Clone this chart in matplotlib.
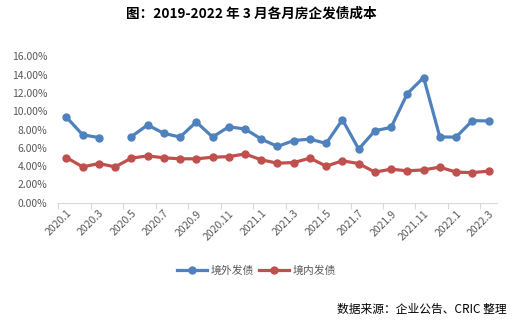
import numpy as np
import matplotlib.pyplot as plt
from matplotlib.ticker import PercentFormatter

plt.rcParams['font.family'] = ['Noto Sans CJK SC', 'DejaVu Sans']

# monthly labels 2020.1 .. 2022.3
months = ['2020.1', '2020.2', '2020.3', '2020.4', '2020.5', '2020.6', '2020.7',
          '2020.8', '2020.9', '2020.10', '2020.11', '2020.12', '2021.1', '2021.2',
          '2021.3', '2021.4', '2021.5', '2021.6', '2021.7', '2021.8', '2021.9',
          '2021.10', '2021.11', '2021.12', '2022.1', '2022.2', '2022.3']

# offshore bond cost (%), no issue in 2020.4
offshore = [9.35, 7.43, 7.12, np.nan, 7.22, 8.5, 7.58, 7.18, 8.83, 7.18, 8.3,
            8.06, 6.96, 6.15, 6.8, 6.95, 6.48, 9.08, 5.86, 7.87, 8.24, 11.94,
            13.69, 7.18, 7.18, 8.97, 8.94]
# onshore bond cost (%)
onshore = [4.94, 3.92, 4.28, 3.92, 4.87, 5.12, 4.91, 4.8, 4.8, 4.97, 5.04,
           5.33, 4.69, 4.32, 4.39, 4.87, 4.0, 4.58, 4.28, 3.34, 3.67, 3.48,
           3.59, 3.89, 3.34, 3.29, 3.45]

x = np.arange(len(months))

fig = plt.figure(figsize=[5.19, 3.25], dpi=100)
ax = fig.add_axes([0.1123, 0.3763, 0.8447, 0.4502])

ax.plot(x, offshore, color='#4F81BD', linewidth=2.3, marker='o', markersize=5,
        label='境外发债')
ax.plot(x, onshore, color='#C0504D', linewidth=2.3, marker='o', markersize=5,
        label='境内发债')

ax.set_xlim(-0.5, len(months) - 0.5)
ax.set_ylim(0, 16)
ax.set_yticks(np.arange(0, 17, 2))
ax.yaxis.set_major_formatter(PercentFormatter(decimals=2))

# labels on every other month, ticks between category pairs
ax.set_xticks(x[::2])
ax.set_xticklabels(months[::2], rotation=45, ha='right', rotation_mode='anchor')
ax.set_xticks(np.arange(-0.5, len(months) - 1, 2), minor=True)
ax.tick_params(axis='x', which='major', length=0, pad=4, labelsize=7.5, labelcolor='#595959')
ax.tick_params(axis='x', which='minor', length=4, color='#D9D9D9', width=0.8)
ax.tick_params(axis='y', length=0, pad=8, labelsize=7.5, labelcolor='#595959')

for side in ['left', 'right', 'top']:
    ax.spines[side].set_visible(False)
ax.spines['bottom'].set_color('#D9D9D9')
ax.spines['bottom'].set_linewidth(0.8)

fig.text(0.484, 0.957, '图：2019-2022 年 3 月各月房企发债成本', ha='center', va='center',
         fontsize=9.8, fontweight='bold')

fig.legend(loc='center', bbox_to_anchor=(0.494, 0.168), ncol=2, frameon=False,
           fontsize=7.8, handlelength=2.8, handletextpad=0.3, columnspacing=0.5,
           labelcolor='#595959')

fig.text(0.977, 0.047, '数据来源：企业公告、CRIC 整理', ha='right', va='center', fontsize=8.5)

fig.savefig('out.png', dpi=100)
